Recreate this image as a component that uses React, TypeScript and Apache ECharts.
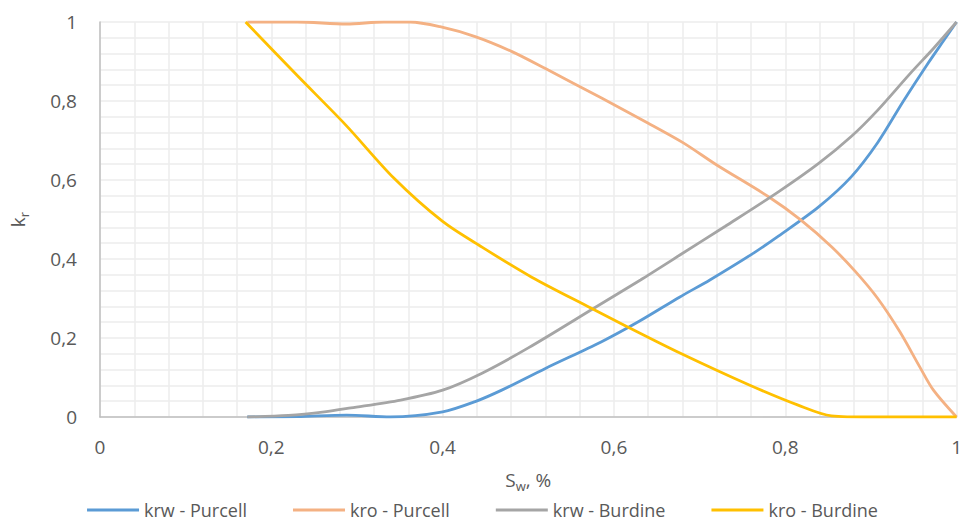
import React, { useEffect, useRef } from "react";
import * as echarts from "echarts";

const seriesNames = ["krw - Purcell", "kro - Purcell", "krw - Burdine", "kro - Burdine"];
const colors = ["#5b9bd5", "#f4b183", "#a5a5a5", "#ffc000"];

const krwPurcellSw = [0.172, 0.23, 0.288, 0.339, 0.4, 0.438, 0.469, 0.52, 0.585, 0.63, 0.677, 0.712, 0.763, 0.792, 0.839, 0.877, 0.908, 0.938, 0.965, 0.985, 1.0];
const krwPurcellKr = [0.0, 0.001, 0.005, 0.0, 0.013, 0.039, 0.068, 0.123, 0.19, 0.243, 0.304, 0.347, 0.415, 0.458, 0.532, 0.608, 0.695, 0.8, 0.89, 0.953, 1.0];

const kroPurcellSw = [0.172, 0.23, 0.288, 0.331, 0.362, 0.397, 0.438, 0.481, 0.52, 0.585, 0.639, 0.681, 0.72, 0.781, 0.818, 0.854, 0.882, 0.908, 0.934, 0.957, 0.973, 1.0];
const kroPurcellKr = [1.0, 1.0, 0.995, 1.0, 1.0, 0.988, 0.963, 0.925, 0.882, 0.808, 0.745, 0.694, 0.638, 0.557, 0.499, 0.431, 0.368, 0.3, 0.215, 0.127, 0.068, 0.0];

const krwBurdineSw = [0.172, 0.22, 0.262, 0.293, 0.351, 0.4, 0.446, 0.5, 0.577, 0.631, 0.677, 0.73, 0.792, 0.839, 0.877, 0.908, 0.946, 0.973, 1.0];
const krwBurdineKr = [0.0, 0.004, 0.013, 0.023, 0.043, 0.068, 0.111, 0.175, 0.276, 0.347, 0.41, 0.483, 0.57, 0.642, 0.71, 0.777, 0.87, 0.933, 1.0];

const kroBurdineSw = [0.17, 0.23, 0.287, 0.343, 0.4, 0.446, 0.504, 0.573, 0.616, 0.677, 0.758, 0.815, 0.854, 0.9, 0.95, 1.0];
const kroBurdineKr = [1.0, 0.865, 0.739, 0.605, 0.495, 0.43, 0.354, 0.276, 0.228, 0.162, 0.081, 0.03, 0.003, 0.0, 0.0, 0.0];

const xs = [krwPurcellSw, kroPurcellSw, krwBurdineSw, kroBurdineSw];
const ys = [krwPurcellKr, kroPurcellKr, krwBurdineKr, kroBurdineKr];

const fmt = (v: number) => {
  const r = Math.round(v * 100) / 100;
  return String(r).replace(".", ",");
};

export default function App() {
  const ref = useRef<HTMLDivElement>(null);
  useEffect(() => {
    if (!ref.current) return;
    const chart = echarts.init(ref.current, undefined, { renderer: "svg" });
    const font = "Open Sans";
    const gridColor = "#ececec";
    const textColor = "#595959";
    chart.setOption({
      animation: false,
      textStyle: { fontFamily: font },
      grid: { left: 93, right: 5, top: 22, bottom: 108, containLabel: false },
      xAxis: {
        type: "value",
        min: 0,
        max: 1,
        interval: 0.2,
        axisLine: { show: true, lineStyle: { color: "#bfbfbf", width: 1.5 } },
        axisTick: { show: false },
        axisLabel: { formatter: fmt, color: textColor, fontSize: 19, margin: 20, fontFamily: font },
        splitLine: { show: true, lineStyle: { color: gridColor, width: 1.5 } },
        minorTick: { show: false, splitNumber: 5 },
        minorSplitLine: { show: true, lineStyle: { color: gridColor, width: 1.5 } },
        name: "{m|S}{s|w}{m|, %}",
        nameLocation: "middle",
        nameGap: 50,
        nameTextStyle: {
          rich: {
            m: { fontSize: 19, color: textColor, fontFamily: font },
            s: { fontSize: 13, color: textColor, fontFamily: font, padding: [12, 0, 0, 0] },
          },
        },
      },
      yAxis: {
        type: "value",
        min: 0,
        max: 1,
        interval: 0.2,
        axisLine: { show: true, lineStyle: { color: "#bfbfbf", width: 1.5 } },
        axisTick: { show: false },
        axisLabel: { formatter: fmt, color: textColor, fontSize: 19, margin: 23, fontFamily: font },
        splitLine: { show: true, lineStyle: { color: gridColor, width: 1.5 } },
        minorTick: { show: false, splitNumber: 5 },
        minorSplitLine: { show: true, lineStyle: { color: gridColor, width: 1.5 } },
        name: "{m|k}{s|r}",
        nameLocation: "middle",
        nameGap: 70,
        nameTextStyle: {
          rich: {
            m: { fontSize: 19, color: textColor, fontFamily: font },
            s: { fontSize: 13, color: textColor, fontFamily: font, padding: [12, 0, 0, 0] },
          },
        },
      },
      legend: {
        top: 500,
        left: "center",
        padding: 0,
        icon: "rect",
        itemWidth: 52,
        itemHeight: 3,
        itemGap: 46,
        textStyle: { color: textColor, fontSize: 18, lineHeight: 20, fontFamily: font },
        data: seriesNames,
      },
      series: seriesNames.map((name, i) => ({
        name,
        type: "line",
        data: xs[i].map((x, j) => [x, ys[i][j]]),
        smooth: 0.3,
        showSymbol: false,
        symbol: "none",
        lineStyle: { color: colors[i], width: 2.8 },
        itemStyle: { color: colors[i] },
        z: 2,
      })),
    });
    return () => chart.dispose();
  }, []);
  return (
    <div
      ref={ref}
      style={{ position: "absolute", left: 0, top: 0, width: 965, height: 525 }}
    />
  );
}
